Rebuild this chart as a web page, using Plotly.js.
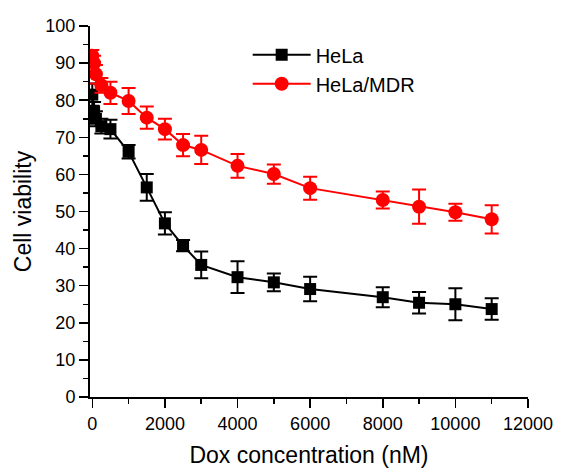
<!DOCTYPE html>
<html>
<head>
<meta charset="utf-8">
<script src="https://cdn.plot.ly/plotly-3.0.1.min.js"></script>
<style>html,body{margin:0;padding:0;background:#fff;}#chart{width:561px;height:475px;}</style>
</head>
<body>
<div id="chart"></div>
<script>
var doseNM = [0, 50, 100, 250, 500, 1000, 1500, 2000, 2500, 3000, 4000, 5000, 6000, 8000, 9000, 10000, 11000];
var helaViability = [81.5, 77, 75, 73, 72.2, 66.1, 56.5, 46.8, 40.8, 35.6, 32.3, 30.9, 29.1, 26.9, 25.4, 25.0, 23.7];
var helaError = [3, 2.5, 2, 2, 2.5, 1.8, 3.6, 3.0, 1.5, 3.6, 4.3, 2.4, 3.3, 2.7, 2.9, 4.3, 2.9];
var mdrViability = [92, 90, 87, 84, 82, 79.8, 75.3, 72.2, 67.9, 66.6, 62.3, 60.1, 56.3, 53.1, 51.3, 49.8, 47.9];
var mdrError = [1.5, 2, 2.5, 2, 3, 3.5, 3.0, 2.8, 3, 3.8, 3.2, 2.6, 3.1, 2.3, 4.6, 2.3, 3.8];

var traces = [
  {
    x: doseNM, y: helaViability, name: 'HeLa', type: 'scatter', mode: 'lines+markers',
    line: {color: '#000000', width: 2},
    marker: {symbol: 'square', size: 12, color: '#000000'},
    error_y: {type: 'data', array: helaError, visible: true, color: '#000000', thickness: 2, width: 7}
  },
  {
    x: doseNM, y: mdrViability, name: 'HeLa/MDR', type: 'scatter', mode: 'lines+markers',
    line: {color: '#ff0000', width: 2},
    marker: {symbol: 'circle', size: 14, color: '#ff0000'},
    error_y: {type: 'data', array: mdrError, visible: true, color: '#ff0000', thickness: 2, width: 7}
  }
];

var font = 'Liberation Sans, Arial, sans-serif';
var layout = {
  width: 561, height: 475,
  margin: {l: 90, r: 33, t: 26, b: 78},
  paper_bgcolor: '#ffffff', plot_bgcolor: '#ffffff',
  font: {family: font, color: '#000000', size: 18},
  showlegend: true,
  legend: {x: 0.36, y: 0.975, xanchor: 'left', yanchor: 'top', bgcolor: 'rgba(0,0,0,0)',
           font: {family: font, size: 20, color: '#000'}, itemwidth: 58, tracegroupgap: 0},
  xaxis: {
    range: [-63, 12000], dtick: 2000, tick0: 0, tickformat: 'd',
    showline: true, linecolor: '#000', linewidth: 2, zeroline: false, showgrid: false,
    ticks: 'outside', ticklen: 9, tickwidth: 1.5, tickcolor: '#000',
    minor: {dtick: 1000, ticks: 'outside', ticklen: 5, tickwidth: 1.5, tickcolor: '#000', showgrid: false},
    tickfont: {family: font, size: 18},
    title: {text: 'Dox concentration (nM)', font: {family: font, size: 23}, standoff: 14}
  },
  yaxis: {
    range: [0, 100], dtick: 10, tick0: 0,
    showline: true, linecolor: '#000', linewidth: 2, zeroline: false, showgrid: false,
    ticks: 'outside', ticklen: 9, tickwidth: 1.5, tickcolor: '#000',
    minor: {dtick: 5, ticks: 'outside', ticklen: 5, tickwidth: 1.5, tickcolor: '#000', showgrid: false},
    tickfont: {family: font, size: 18},
    title: {text: 'Cell viability', font: {family: font, size: 23}, standoff: 7}
  }
};

Plotly.newPlot('chart', traces, layout, {displayModeBar: false, staticPlot: true});
</script>
</body>
</html>
